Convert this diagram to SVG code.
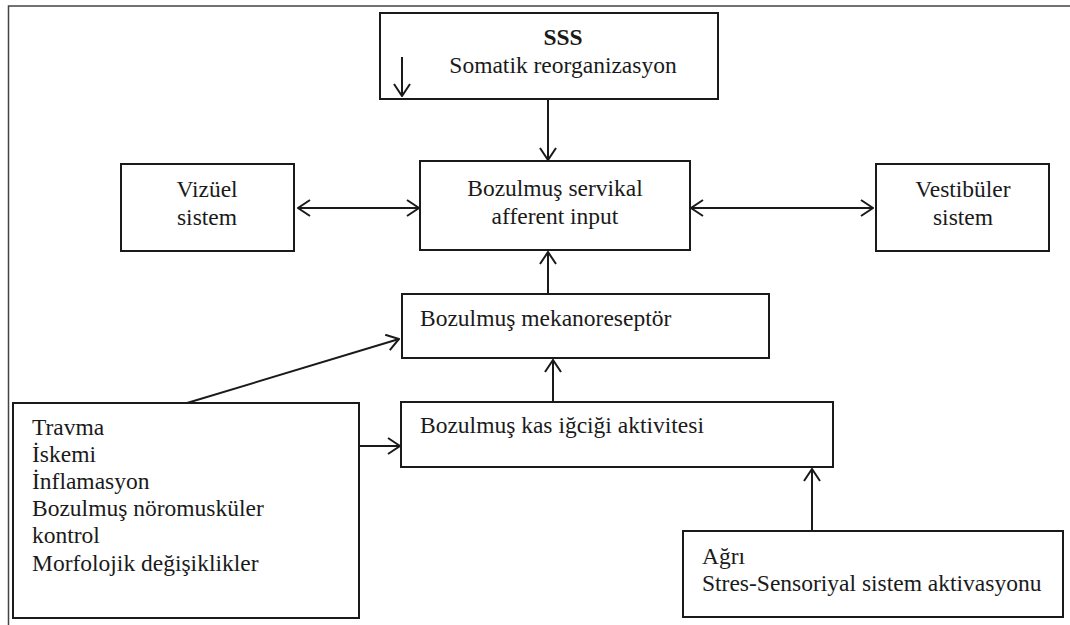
<svg xmlns="http://www.w3.org/2000/svg" width="1070" height="625" viewBox="0 0 1070 625">
<style>
.box{fill:#fff;stroke:#1a1a1a;stroke-width:2}
.t{font-family:"Liberation Serif","Times New Roman",serif;font-size:23.5px;fill:#1a1a1a}
.c{text-anchor:middle}
.ln{fill:none;stroke:#1a1a1a;stroke-width:2}
</style>
<defs>
<marker id="ah" viewBox="0 0 14 18" refX="13" refY="9" markerWidth="14" markerHeight="18" markerUnits="userSpaceOnUse" orient="auto-start-reverse">
<path d="M1,1 L13,9 L1,17" fill="none" stroke="#1a1a1a" stroke-width="2"/>
</marker>
</defs>
<rect width="1070" height="625" fill="#fff"/>
<path d="M8.5,625 V6 H1070" fill="none" stroke="#444" stroke-width="1.5"/>
<g id="sss">
<rect class="box" x="380" y="13" width="338" height="86"/>
<text class="t c" x="563" y="45" font-weight="bold">SSS</text>
<text class="t c" x="563" y="73">Somatik reorganizasyon</text>
<line class="ln" x1="402" y1="57" x2="402" y2="96" marker-end="url(#ah)"/>
</g>
<g id="servikal">
<rect class="box" x="420" y="161" width="270" height="89"/>
<text class="t c" x="555" y="196">Bozulmuş servikal</text>
<text class="t c" x="555" y="224">afferent input</text>
</g>
<g id="vizuel">
<rect class="box" x="121" y="164" width="173" height="87"/>
<text class="t c" x="207" y="197">Vizüel</text>
<text class="t c" x="207" y="225">sistem</text>
</g>
<g id="vestibuler">
<rect class="box" x="876" y="164" width="173" height="87"/>
<text class="t c" x="963" y="197">Vestibüler</text>
<text class="t c" x="963" y="225">sistem</text>
</g>
<g id="mekano">
<rect class="box" x="402" y="294" width="367" height="64"/>
<text class="t" x="420" y="326">Bozulmuş mekanoreseptör</text>
</g>
<g id="kas">
<rect class="box" x="401" y="402" width="432" height="65"/>
<text class="t" x="420" y="433">Bozulmuş kas iğciği aktivitesi</text>
</g>
<g id="nedenler">
<rect class="box" x="13" y="403" width="346" height="215"/>
<text class="t" x="32" y="435">Travma</text>
<text class="t" x="32" y="462">İskemi</text>
<text class="t" x="32" y="489">İnflamasyon</text>
<text class="t" x="32" y="516">Bozulmuş nöromusküler</text>
<text class="t" x="32" y="543">kontrol</text>
<text class="t" x="32" y="571">Morfolojik değişiklikler</text>
</g>
<g id="agri">
<rect class="box" x="683" y="531" width="380" height="86"/>
<text class="t" x="702" y="564">Ağrı</text>
<text class="t" x="702" y="591">Stres-Sensoriyal sistem aktivasyonu</text>
</g>
<g id="connectors">
<line class="ln" x1="548" y1="99" x2="548" y2="160" marker-end="url(#ah)"/>
<line class="ln" x1="298" y1="208" x2="419" y2="208" marker-start="url(#ah)" marker-end="url(#ah)"/>
<line class="ln" x1="691" y1="208" x2="873" y2="208" marker-start="url(#ah)" marker-end="url(#ah)"/>
<line class="ln" x1="548" y1="294" x2="548" y2="252" marker-end="url(#ah)"/>
<line class="ln" x1="553" y1="402" x2="553" y2="360" marker-end="url(#ah)"/>
<line class="ln" x1="187" y1="403" x2="399" y2="339" marker-end="url(#ah)"/>
<line class="ln" x1="359" y1="446" x2="400" y2="446" marker-end="url(#ah)"/>
<line class="ln" x1="812" y1="531" x2="812" y2="469" marker-end="url(#ah)"/>
</g>
</svg>
